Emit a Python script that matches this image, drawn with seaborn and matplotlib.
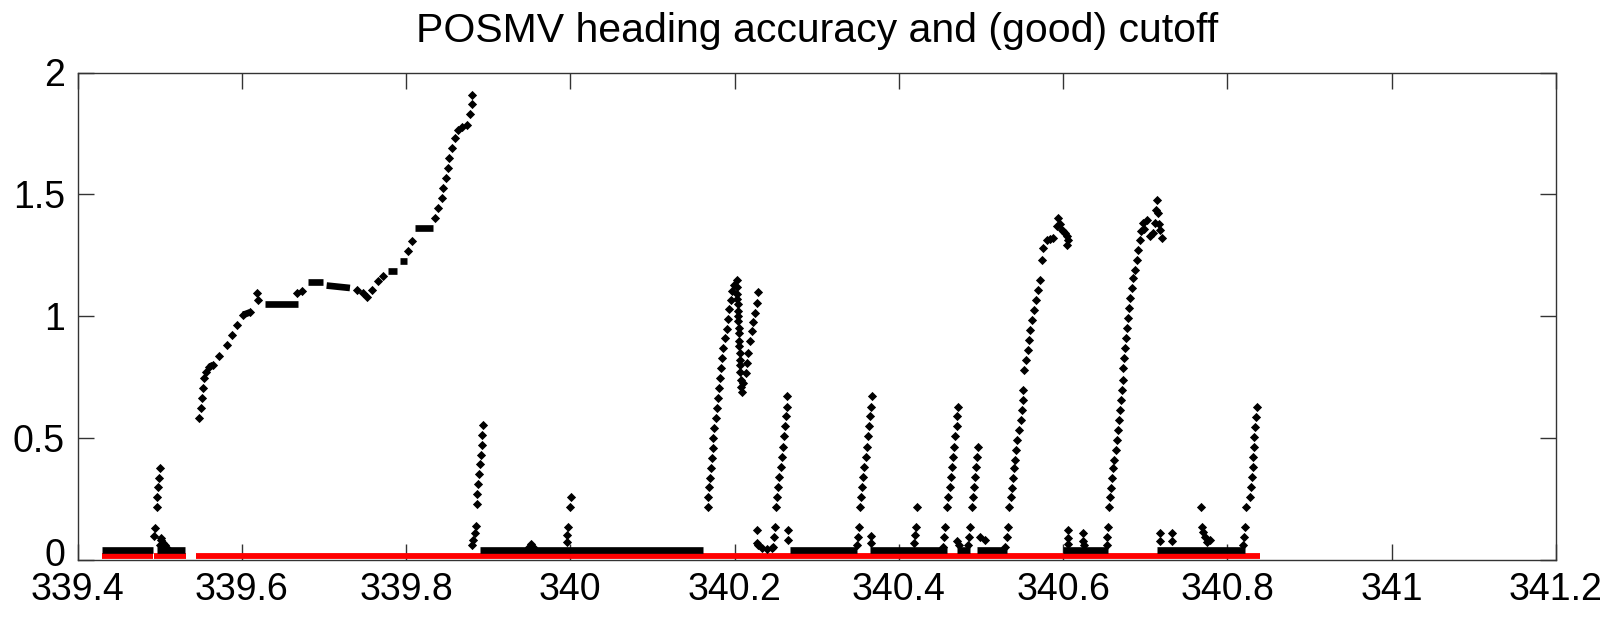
import numpy as np
import pandas as pd
import matplotlib
matplotlib.use("Agg")
import matplotlib.pyplot as plt
import matplotlib.transforms as mtransforms
import seaborn as sns

# ---- heading accuracy samples (decimal day, degrees) ----
start_spike_t = [339.4931, 339.4944, 339.4964, 339.4972, 339.4980, 339.4989, 339.5001,
                 339.5004, 339.5017, 339.5020, 339.5040, 339.5060, 339.5090]
start_spike_v = [0.099, 0.133, 0.218, 0.259, 0.299, 0.338, 0.379,
                 0.062, 0.082, 0.090, 0.070, 0.060, 0.050]

climb_t = [339.5483, 339.5499, 339.5512, 339.5524, 339.5544, 339.5564, 339.5605, 339.5654,
           339.5727, 339.5824, 339.5877, 339.5938, 339.6019, 339.6100, 339.6181, 339.6202,
           339.6668, 339.6729, 339.7399, 339.7480, 339.7520, 339.7581, 339.7663, 339.7723,
           339.8028, 339.8068, 339.8352, 339.8393, 339.8433, 339.8454, 339.8486, 339.8507,
           339.8527, 339.8555, 339.8596, 339.8636, 339.8680, 339.8738, 339.8779, 339.8799,
           339.8799]
climb_v = [0.582, 0.623, 0.664, 0.705, 0.746, 0.773, 0.791, 0.801,
           0.838, 0.883, 0.924, 0.965, 1.006, 1.016, 1.095, 1.068,
           1.095, 1.102, 1.109, 1.095, 1.079, 1.109, 1.143, 1.166,
           1.266, 1.307, 1.403, 1.444, 1.485, 1.526, 1.567, 1.608,
           1.650, 1.691, 1.732, 1.766, 1.775, 1.786, 1.828, 1.869,
           1.906]

drop_t = [339.8940, 339.8928, 339.8921, 339.8909, 339.8900, 339.8888, 339.8876,
          339.8867, 339.8860, 339.8848, 339.8839, 339.8819, 339.8806]
drop_v = [0.552, 0.513, 0.472, 0.432, 0.393, 0.353, 0.313,
          0.272, 0.231, 0.141, 0.110, 0.082, 0.062]

bump_t = [339.9500, 339.9520, 339.9540, 340.0004, 339.9996, 339.9975, 339.9963, 339.9956]
bump_v = [0.055, 0.065, 0.055, 0.260, 0.219, 0.137, 0.103, 0.073]

twin_t = [340.1672, 340.1680, 340.1692, 340.1700, 340.1712, 340.1721, 340.1733, 340.1741,
          340.1753, 340.1769, 340.1781, 340.1794, 340.1810, 340.1822, 340.1834, 340.1850,
          340.1863, 340.1883, 340.1903, 340.1923, 340.1936, 340.1952, 340.1964, 340.1993,
          340.2025, 340.2030, 340.2032, 340.2035, 340.2037, 340.2040, 340.2042, 340.2045,
          340.2048, 340.2050, 340.2053, 340.2056, 340.2060, 340.2063, 340.2066, 340.2070,
          340.2075, 340.2080, 340.2085, 340.2106, 340.2139, 340.2155, 340.2167, 340.2187,
          340.2208, 340.2228, 340.2248, 340.2268, 340.2289, 340.2270, 340.2275, 340.2290,
          340.2330, 340.2400, 340.2450]
twin_v = [0.219, 0.260, 0.298, 0.335, 0.376, 0.417, 0.458, 0.500,
          0.541, 0.582, 0.623, 0.664, 0.705, 0.746, 0.787, 0.828,
          0.869, 0.910, 0.949, 0.990, 1.029, 1.068, 1.102, 1.129,
          1.150, 1.120, 1.090, 1.070, 1.050, 1.020, 1.000, 0.980,
          0.950, 0.930, 0.900, 0.880, 0.850, 0.820, 0.800, 0.770,
          0.740, 0.710, 0.690, 0.726, 0.767, 0.810, 0.851, 0.897,
          0.938, 0.975, 1.013, 1.054, 1.098, 0.123, 0.070, 0.060,
          0.050, 0.045, 0.050]

spike_f_t = [340.2642, 340.2634, 340.2626, 340.2613, 340.2605, 340.2593, 340.2577, 340.2561,
             340.2544, 340.2532, 340.2520, 340.2504, 340.2492, 340.2479, 340.2463,
             340.2654, 340.2654]
spike_f_v = [0.671, 0.627, 0.589, 0.548, 0.507, 0.465, 0.424, 0.381,
             0.340, 0.298, 0.260, 0.219, 0.137, 0.096, 0.055,
             0.123, 0.082]

spike_g_t = [340.3668, 340.3660, 340.3648, 340.3636, 340.3620, 340.3607, 340.3595, 340.3579,
             340.3567, 340.3555, 340.3538, 340.3526, 340.3514, 340.3502, 340.3486,
             340.3660, 340.3660]
spike_g_v = [0.671, 0.627, 0.589, 0.548, 0.507, 0.465, 0.424, 0.381,
             0.340, 0.298, 0.260, 0.219, 0.137, 0.096, 0.062,
             0.100, 0.070]

spike_h_t = [340.4216, 340.4208, 340.4196, 340.4188]
spike_h_v = [0.219, 0.137, 0.103, 0.069]

spike_i_t = [340.4724, 340.4711, 340.4703, 340.4683, 340.4671, 340.4663, 340.4650, 340.4634,
             340.4622, 340.4602, 340.4582, 340.4561, 340.4549, 340.4533]
spike_i_v = [0.627, 0.589, 0.548, 0.507, 0.465, 0.422, 0.381, 0.340,
             0.298, 0.260, 0.219, 0.137, 0.096, 0.055]

spike_j_t = [340.4967, 340.4955, 340.4939, 340.4926, 340.4914, 340.4898, 340.4886,
             340.4866, 340.4857, 340.4845, 340.4710, 340.4730, 340.4987, 340.5048]
spike_j_v = [0.465, 0.424, 0.381, 0.340, 0.298, 0.260, 0.219,
             0.137, 0.096, 0.062, 0.080, 0.060, 0.096, 0.082]

rise_k_t = [340.5292, 340.5312, 340.5332, 340.5344, 340.5361, 340.5373, 340.5385, 340.5401,
            340.5413, 340.5426, 340.5442, 340.5466, 340.5483, 340.5495, 340.5507, 340.5515,
            340.5529, 340.5547, 340.5566, 340.5584, 340.5602, 340.5620, 340.5645, 340.5669,
            340.5694, 340.5718, 340.5738, 340.5758, 340.5800, 340.5840, 340.5880, 340.5921,
            340.5941, 340.5962, 340.5982, 340.6002, 340.6023, 340.6043, 340.6046, 340.6062]
rise_k_v = [0.055, 0.096, 0.137, 0.219, 0.260, 0.294, 0.335, 0.376,
            0.411, 0.452, 0.493, 0.534, 0.575, 0.616, 0.657, 0.698,
            0.780, 0.821, 0.862, 0.903, 0.945, 0.986, 1.027, 1.068,
            1.109, 1.150, 1.232, 1.280, 1.314, 1.318, 1.321, 1.369,
            1.403, 1.380, 1.355, 1.350, 1.342, 1.294, 1.330, 1.314]

after_k_t = [340.6062, 340.6062, 340.6062, 340.6245, 340.6245, 340.6250]
after_k_v = [0.123, 0.090, 0.065, 0.110, 0.080, 0.060]

rise_l_t = [340.6529, 340.6537, 340.6550, 340.6562, 340.6570, 340.6582, 340.6598, 340.6610,
            340.6623, 340.6639, 340.6651, 340.6663, 340.6679, 340.6692, 340.6700, 340.6712,
            340.6724, 340.6732, 340.6744, 340.6753, 340.6765, 340.6773, 340.6785, 340.6805,
            340.6814, 340.6834, 340.6854, 340.6875, 340.6895, 340.6915, 340.6935, 340.6947,
            340.6975, 340.6987, 340.7017, 340.7057, 340.7097, 340.7118, 340.7130, 340.7140,
            340.7158, 340.7165, 340.7179, 340.7200]
rise_l_v = [0.062, 0.096, 0.137, 0.219, 0.260, 0.294, 0.335, 0.376,
            0.411, 0.452, 0.493, 0.534, 0.575, 0.616, 0.657, 0.698,
            0.739, 0.787, 0.828, 0.869, 0.910, 0.951, 0.993, 1.034,
            1.075, 1.116, 1.157, 1.191, 1.232, 1.273, 1.314, 1.350,
            1.383, 1.360, 1.396, 1.328, 1.342, 1.383, 1.437, 1.478,
            1.424, 1.380, 1.355, 1.321]

tail_t = [340.7180, 340.7180, 340.7330, 340.7330, 340.7678, 340.7686, 340.7706, 340.7727,
          340.7747, 340.7787, 340.8356, 340.8348, 340.8335, 340.8327, 340.8319, 340.8315,
          340.8307, 340.8295, 340.8287, 340.8274, 340.8226, 340.8214, 340.8202, 340.8194]
tail_v = [0.110, 0.080, 0.110, 0.080, 0.219, 0.137, 0.115, 0.096,
          0.075, 0.082, 0.627, 0.586, 0.545, 0.504, 0.463, 0.422,
          0.381, 0.340, 0.298, 0.260, 0.219, 0.137, 0.096, 0.062]

# ---- continuous runs of samples at a near-constant value ----
run_t0 = [339.4298, 339.4972, 339.5605, 339.6019, 339.6283, 339.6810, 339.7033, 339.7784,
          339.7926, 339.8109, 339.8900, 340.2674, 340.3648, 340.4710, 340.4947, 340.6002,
          340.7138]
run_t1 = [339.4919, 339.5312, 339.5654, 339.6100, 339.6689, 339.6993, 339.7317, 339.7886,
          339.8007, 339.8332, 340.1619, 340.3486, 340.4586, 340.4870, 340.5312, 340.6549,
          340.8213]
run_v0 = [0.040, 0.040, 0.791, 1.006, 1.049, 1.140, 1.126, 1.185,
          1.225, 1.362, 0.040, 0.040, 0.040, 0.040, 0.040, 0.040, 0.040]
run_v1 = [0.040, 0.040, 0.801, 1.016, 1.049, 1.140, 1.116, 1.185,
          1.225, 1.362, 0.040, 0.040, 0.040, 0.040, 0.040, 0.040, 0.040]

# ---- samples passing the (good) accuracy cutoff ----
cut_t0 = [339.4298, 339.4930, 339.5446]
cut_t1 = [339.4919, 339.5325, 340.8400]
cut_level = 0.018

x_ticks = [339.4, 339.6, 339.8, 340.0, 340.2, 340.4, 340.6, 340.8, 341.0, 341.2]
x_tick_labels = ["339.4", "339.6", "339.8", "340", "340.2", "340.4", "340.6", "340.8", "341", "341.2"]
y_ticks = [0, 0.5, 1, 1.5, 2]
y_tick_labels = ["0", "0.5", "1", "1.5", "2"]
title_text = "POSMV heading accuracy and (good) cutoff"

# ---- assemble tables ----
point_groups = [(start_spike_t, start_spike_v), (climb_t, climb_v), (drop_t, drop_v),
                (bump_t, bump_v), (twin_t, twin_v), (spike_f_t, spike_f_v),
                (spike_g_t, spike_g_v), (spike_h_t, spike_h_v), (spike_i_t, spike_i_v),
                (spike_j_t, spike_j_v), (rise_k_t, rise_k_v), (after_k_t, after_k_v),
                (rise_l_t, rise_l_v), (tail_t, tail_v)]
points = pd.DataFrame({
    "day": np.concatenate([np.asarray(t, float) for t, _ in point_groups]),
    "acc": np.concatenate([np.asarray(v, float) for _, v in point_groups]),
})

runs = pd.DataFrame({
    "day": np.ravel(np.column_stack([run_t0, run_t1])),
    "acc": np.ravel(np.column_stack([run_v0, run_v1])),
    "run": np.repeat(np.arange(len(run_t0)), 2),
})
cuts = pd.DataFrame({
    "day": np.ravel(np.column_stack([cut_t0, cut_t1])),
    "acc": np.full(2 * len(cut_t0), cut_level),
    "run": np.repeat(np.arange(len(cut_t0)), 2),
})

# ---- figure ----
sns.set_theme(style="white")
plt.rcParams["font.family"] = ["Liberation Sans", "DejaVu Sans"]

W, H = 1621, 624
fig = plt.figure(figsize=(W / 100, H / 100), dpi=100)
ax = fig.add_axes([77.5 / W, 64 / H, 1478.5 / W, 487.5 / H])

sns.lineplot(data=cuts, x="day", y="acc", units="run", estimator=None, sort=False,
             color="#ff0000", linewidth=4.2, ax=ax, zorder=2, legend=False)

sns.lineplot(data=runs, x="day", y="acc", units="run", estimator=None, sort=False,
             color="black", linewidth=4.8, ax=ax, zorder=3, legend=False)
for ln in ax.get_lines():
    ln.set_solid_capstyle("butt")

sns.scatterplot(data=points, x="day", y="acc", marker="D", s=22, color="black",
                linewidth=0, ax=ax, zorder=4, legend=False)

ax.set_xlim(339.4, 341.2)
ax.set_ylim(0, 2)
ax.set_xticks(x_ticks)
ax.set_xticklabels(x_tick_labels)
ax.set_yticks(y_ticks)
ax.set_yticklabels(y_tick_labels)
ax.set_xlabel("")
ax.set_ylabel("")

edge = "#333333"
for sp in ax.spines.values():
    sp.set_visible(True)
    sp.set_color(edge)
    sp.set_linewidth(1.0)
ax.tick_params(axis="both", which="major", direction="in", length=11.5, width=1.0,
               color=edge, labelsize=27, labelcolor="black",
               top=True, right=True, bottom=True, left=True)
ax.tick_params(axis="x", pad=9)
ax.tick_params(axis="y", pad=9)
ax.grid(False)

# lift the lowest y label a little so it clears the first x label
zero_label = ax.get_yticklabels()[0]
zero_label.set_transform(zero_label.get_transform()
                         + mtransforms.ScaledTranslation(0, 6 / 72, fig.dpi_scale_trans))

fig.text((77.5 + 1556) / 2 / W, 1 - 31 / H, title_text, ha="center", va="center",
         fontsize=29.5, color="black")

fig.savefig("out.png", dpi=100, facecolor="white")
